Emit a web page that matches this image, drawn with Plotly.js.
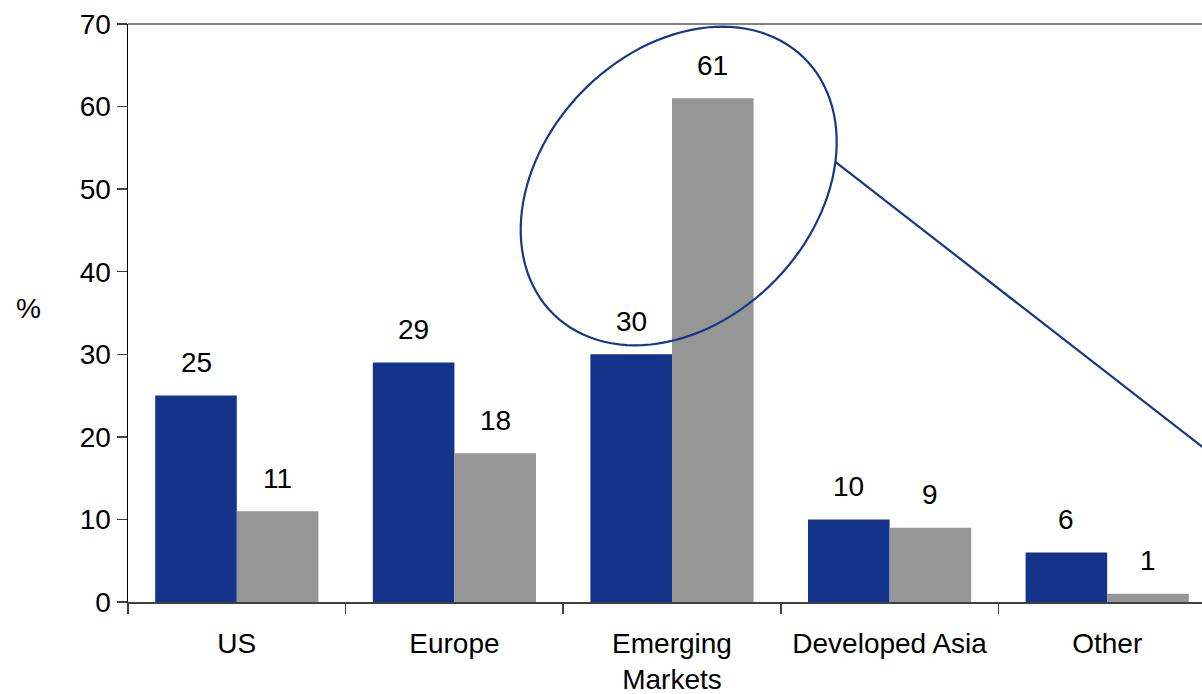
<!DOCTYPE html>
<html>
<head>
<meta charset="utf-8">
<script src="https://cdn.plot.ly/plotly-3.0.1.min.js"></script>
<style>
html,body{margin:0;padding:0;overflow:hidden;background:#fff;}
#chart{width:1230px;height:694px;}
</style>
</head>
<body>
<div id="chart"></div>
<script>
// ---- data ----
const categories = ["US", "Europe", "Emerging<br>Markets", "Developed Asia", "Other"];
const seriesA = [25, 29, 30, 10, 6];   // dark blue
const seriesB = [11, 18, 61, 9, 1];    // grey
const yTicks = [0, 10, 20, 30, 40, 50, 60, 70];

// ---- layout constants ----
const W = 1230, H = 694;
const M = {l: 128, r: 14, t: 24, b: 92};
const plotW = W - M.l - M.r, plotH = H - M.t - M.b;
const FONT = '"Liberation Sans", Arial, sans-serif';
const BLUE = '#13348a', GREY = '#969696';

const traces = [
  {type: 'bar', x: categories, y: seriesA, marker: {color: BLUE, line: {width: 0}}, hoverinfo: 'skip'},
  {type: 'bar', x: categories, y: seriesB, marker: {color: GREY, line: {width: 0}}, hoverinfo: 'skip'}
];

// value labels
const annotations = [];
const barShift = plotW / categories.length * 0.75 / 4;
[seriesA, seriesB].forEach((s, k) => {
  s.forEach((v, i) => {
    annotations.push({
      x: categories[i], y: v, xref: 'x', yref: 'y',
      text: String(v), showarrow: false,
      xshift: (k === 0 ? -1 : 1) * barShift, yshift: 33,
      yanchor: 'middle', xanchor: 'center',
      font: {family: FONT, size: 28, color: '#000'}
    });
  });
});
annotations.push({
  xref: 'paper', yref: 'paper', x: 0, y: (602 - 308) / plotH,
  xshift: -100, text: '%', showarrow: false, xanchor: 'center', yanchor: 'middle',
  font: {family: FONT, size: 28, color: '#000'}
});

// ellipse highlight (pixel geometry converted to paper coords)
function toPaper(X, Y) { return [(X - M.l) / plotW, (M.t + plotH - Y) / plotH]; }
const ec = {x: 678.7, y: 186, a: 179.2, b: 135, phi: 45.85 * Math.PI / 180};
let path = '';
for (let i = 0; i <= 120; i++) {
  const t = i / 120 * 2 * Math.PI;
  const dx = ec.a * Math.cos(t), dy = ec.b * Math.sin(t);
  const X = ec.x + dx * Math.cos(ec.phi) - dy * Math.sin(ec.phi);
  const Y = ec.y - (dx * Math.sin(ec.phi) + dy * Math.cos(ec.phi));
  const p = toPaper(X, Y);
  path += (i === 0 ? 'M' : 'L') + p[0].toFixed(5) + ',' + p[1].toFixed(5) + ' ';
}
path += 'Z';
const l0 = toPaper(836, 162.3), l1 = toPaper(1216, 457.6);

const shapes = [
  {type: 'line', xref: 'paper', yref: 'paper', x0: 0, x1: 1, y0: 1, y1: 1,
   line: {color: '#808080', width: 2}},
  {type: 'path', xref: 'paper', yref: 'paper', path: path,
   line: {color: '#16378a', width: 2.2}, fillcolor: 'rgba(0,0,0,0)'},
  {type: 'line', xref: 'paper', yref: 'paper', x0: l0[0], y0: l0[1], x1: l1[0], y1: l1[1],
   line: {color: '#16378a', width: 2.2}}
];

const layout = {
  width: W, height: H,
  margin: M,
  paper_bgcolor: '#fff', plot_bgcolor: '#fff',
  showlegend: false,
  barmode: 'group', bargap: 0.25, bargroupgap: 0,
  font: {family: FONT, size: 28, color: '#000'},
  xaxis: {
    type: 'category', tickson: 'boundaries', ticks: 'outside', ticklen: 10,
    tickcolor: '#404040', tickwidth: 1.5, ticklabelstandoff: 15,
    showline: true, linecolor: '#404040', linewidth: 2,
    showgrid: false, zeroline: false, fixedrange: true,
    tickfont: {family: FONT, size: 28, color: '#000'}
  },
  yaxis: {
    range: [0, 70], tickvals: yTicks, ticktext: yTicks.map(String),
    ticks: 'outside', ticklen: 10, tickcolor: '#404040', tickwidth: 1.5,
    showline: true, linecolor: '#000', linewidth: 1.5,
    showgrid: false, zeroline: false, fixedrange: true,
    tickfont: {family: FONT, size: 28, color: '#000'}
  },
  annotations: annotations,
  shapes: shapes
};

Plotly.newPlot('chart', traces, layout, {displayModeBar: false, staticPlot: true});
</script>
</body>
</html>
